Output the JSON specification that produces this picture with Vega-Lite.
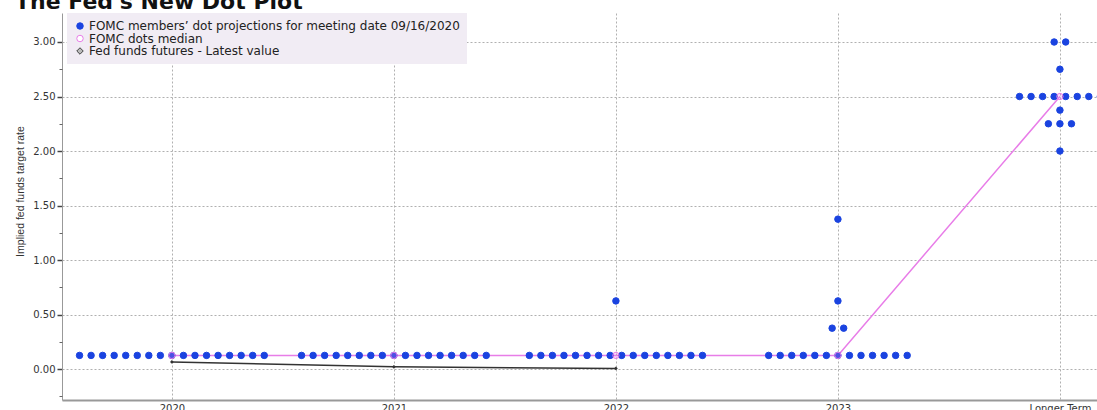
{
  "$schema": "https://vega.github.io/schema/vega-lite/v6.json",
  "autosize": {"type": "none"},
  "padding": {"left": 62, "top": 13, "right": 0, "bottom": 10},
  "width": 1035,
  "height": 387,
  "background": "white",
  "config": {"view": {"stroke": null}},
  "title": {"text": "The Fed's New Dot Plot", "anchor": "start", "frame": "group", "font": "DejaVu Sans", "fontSize": 22, "fontWeight": "bold", "color": "#111", "dx": -47, "dy": 20, "offset": 2, "baseline": "alphabetic"},
  "datasets": {
    "dots": [
      {"series": "dots", "x": 2019.584, "y": 0.125}, {"series": "dots", "x": 2019.636, "y": 0.125}, {"series": "dots", "x": 2019.688, "y": 0.125}, {"series": "dots", "x": 2019.74, "y": 0.125}, {"series": "dots", "x": 2019.792, "y": 0.125}, {"series": "dots", "x": 2019.844, "y": 0.125}, {"series": "dots", "x": 2019.896, "y": 0.125}, {"series": "dots", "x": 2019.948, "y": 0.125}, {"series": "dots", "x": 2020, "y": 0.125}, {"series": "dots", "x": 2020.052, "y": 0.125}, {"series": "dots", "x": 2020.104, "y": 0.125}, {"series": "dots", "x": 2020.156, "y": 0.125}, {"series": "dots", "x": 2020.208, "y": 0.125}, {"series": "dots", "x": 2020.26, "y": 0.125}, {"series": "dots", "x": 2020.312, "y": 0.125}, {"series": "dots", "x": 2020.364, "y": 0.125}, {"series": "dots", "x": 2020.416, "y": 0.125},
      {"series": "dots", "x": 2020.584, "y": 0.125}, {"series": "dots", "x": 2020.636, "y": 0.125}, {"series": "dots", "x": 2020.688, "y": 0.125}, {"series": "dots", "x": 2020.74, "y": 0.125}, {"series": "dots", "x": 2020.792, "y": 0.125}, {"series": "dots", "x": 2020.844, "y": 0.125}, {"series": "dots", "x": 2020.896, "y": 0.125}, {"series": "dots", "x": 2020.948, "y": 0.125}, {"series": "dots", "x": 2021, "y": 0.125}, {"series": "dots", "x": 2021.052, "y": 0.125}, {"series": "dots", "x": 2021.104, "y": 0.125}, {"series": "dots", "x": 2021.156, "y": 0.125}, {"series": "dots", "x": 2021.208, "y": 0.125}, {"series": "dots", "x": 2021.26, "y": 0.125}, {"series": "dots", "x": 2021.312, "y": 0.125}, {"series": "dots", "x": 2021.364, "y": 0.125}, {"series": "dots", "x": 2021.416, "y": 0.125},
      {"series": "dots", "x": 2021.61, "y": 0.125}, {"series": "dots", "x": 2021.662, "y": 0.125}, {"series": "dots", "x": 2021.714, "y": 0.125}, {"series": "dots", "x": 2021.766, "y": 0.125}, {"series": "dots", "x": 2021.818, "y": 0.125}, {"series": "dots", "x": 2021.87, "y": 0.125}, {"series": "dots", "x": 2021.922, "y": 0.125}, {"series": "dots", "x": 2021.974, "y": 0.125}, {"series": "dots", "x": 2022.026, "y": 0.125}, {"series": "dots", "x": 2022.078, "y": 0.125}, {"series": "dots", "x": 2022.13, "y": 0.125}, {"series": "dots", "x": 2022.182, "y": 0.125}, {"series": "dots", "x": 2022.234, "y": 0.125}, {"series": "dots", "x": 2022.286, "y": 0.125}, {"series": "dots", "x": 2022.338, "y": 0.125}, {"series": "dots", "x": 2022.39, "y": 0.125}, {"series": "dots", "x": 2022, "y": 0.625},
      {"series": "dots", "x": 2022.688, "y": 0.125}, {"series": "dots", "x": 2022.74, "y": 0.125}, {"series": "dots", "x": 2022.792, "y": 0.125}, {"series": "dots", "x": 2022.844, "y": 0.125}, {"series": "dots", "x": 2022.896, "y": 0.125}, {"series": "dots", "x": 2022.948, "y": 0.125}, {"series": "dots", "x": 2023, "y": 0.125}, {"series": "dots", "x": 2023.052, "y": 0.125}, {"series": "dots", "x": 2023.104, "y": 0.125}, {"series": "dots", "x": 2023.156, "y": 0.125}, {"series": "dots", "x": 2023.208, "y": 0.125}, {"series": "dots", "x": 2023.26, "y": 0.125}, {"series": "dots", "x": 2023.312, "y": 0.125}, {"series": "dots", "x": 2022.974, "y": 0.375}, {"series": "dots", "x": 2023.026, "y": 0.375}, {"series": "dots", "x": 2023, "y": 0.625}, {"series": "dots", "x": 2023, "y": 1.375},
      {"series": "dots", "x": 2023.974, "y": 3.0}, {"series": "dots", "x": 2024.026, "y": 3.0}, {"series": "dots", "x": 2024, "y": 2.75}, {"series": "dots", "x": 2023.818, "y": 2.5}, {"series": "dots", "x": 2023.87, "y": 2.5}, {"series": "dots", "x": 2023.922, "y": 2.5}, {"series": "dots", "x": 2023.974, "y": 2.5}, {"series": "dots", "x": 2024.026, "y": 2.5}, {"series": "dots", "x": 2024.078, "y": 2.5}, {"series": "dots", "x": 2024.13, "y": 2.5}, {"series": "dots", "x": 2024.182, "y": 2.5}, {"series": "dots", "x": 2024, "y": 2.375}, {"series": "dots", "x": 2023.948, "y": 2.25}, {"series": "dots", "x": 2024, "y": 2.25}, {"series": "dots", "x": 2024.052, "y": 2.25}, {"series": "dots", "x": 2024, "y": 2.0}
    ],
    "median": [
      {"series": "median", "x": 2020, "y": 0.125}, {"series": "median", "x": 2021, "y": 0.125}, {"series": "median", "x": 2022, "y": 0.125}, {"series": "median", "x": 2023, "y": 0.125}, {"series": "median", "x": 2024, "y": 2.5}
    ],
    "futures": [
      {"series": "futures", "x": 2020, "y": 0.065}, {"series": "futures", "x": 2021, "y": 0.02}, {"series": "futures", "x": 2022, "y": 0.005}
    ]
  },
  "encoding": {
    "x": {"field": "x", "type": "quantitative", "scale": {"domain": [2019.505, 2024.167], "nice": false, "zero": false},
      "axis": {"title": null, "values": [2020, 2021, 2022, 2023, 2024], "labelExpr": "datum.value == 2024 ? 'Longer Term' : '' + datum.value", "grid": true, "gridColor": "#b0b0b0", "gridDash": [2, 2], "ticks": false, "domainColor": "#999", "domainWidth": 2, "labelFont": "DejaVu Sans", "labelFontSize": 10, "labelColor": "#333", "labelPadding": 3, "labelFlush": false, "labelOverlap": false}},
    "y": {"field": "y", "type": "quantitative", "scale": {"domain": [-0.284, 3.266], "nice": false, "zero": false}}
  },
  "layer": [
    {"data": {"name": "median"}, "mark": {"type": "line", "strokeWidth": 1.5, "color": "#e87de8", "clip": true},
      "encoding": {"y": {"field": "y", "type": "quantitative",
        "axis": {"title": "Implied fed funds target rate", "values": [0, 0.5, 1, 1.5, 2, 2.5, 3], "format": ".2f", "grid": true, "gridColor": "#b0b0b0", "gridDash": [2, 2], "tickSize": 5, "tickColor": "#444", "tickWidth": 1.5, "domainColor": "#999", "labelFont": "DejaVu Sans", "labelFontSize": 10, "labelColor": "#333", "labelPadding": 2, "titleFont": "Liberation Sans", "titleFontSize": 10.5, "titleFontWeight": "normal", "titleColor": "#333", "titleX": -42, "titleY": 178, "titleBaseline": "middle", "titleAngle": 270}}}},
    {"data": {"name": "futures"}, "mark": {"type": "line", "strokeWidth": 1.5, "color": "#333", "clip": true, "point": {"shape": "diamond", "filled": true, "size": 14, "color": "#333"}}, "encoding": {}},
    {"data": {"name": "dots"}, "mark": {"type": "point", "filled": true, "opacity": 1, "size": 42, "strokeWidth": 1, "clip": true},
      "encoding": {
        "fill": {"field": "series", "type": "nominal", "scale": {"domain": ["dots", "median", "futures"], "range": ["#1a43e0", "#ffffff", "#bbbbbb"]},
          "legend": {"orient": "none", "legendX": 5, "legendY": 0, "title": null, "fillColor": "#f1ecf4", "padding": 7, "labelFont": "DejaVu Sans", "labelFontSize": 12, "labelColor": "#222", "labelLimit": 800, "rowPadding": 0.5, "symbolOffset": 0, "labelOffset": 3, "symbolSize": 42, "symbolStrokeWidth": 1, "symbolOpacity": 1,
            "labelExpr": "datum.value == 'dots' ? 'FOMC members\u2019 dot projections for meeting date 09/16/2020' : datum.value == 'median' ? 'FOMC dots median' : 'Fed funds futures - Latest value'"}},
        "stroke": {"field": "series", "type": "nominal", "scale": {"domain": ["dots", "median", "futures"], "range": ["#1a43e0", "#e87de8", "#444444"]},
          "legend": {"orient": "none", "legendX": 5, "legendY": 0, "title": null, "fillColor": "#f1ecf4", "padding": 7, "labelFont": "DejaVu Sans", "labelFontSize": 12, "labelColor": "#222", "labelLimit": 800, "rowPadding": 0.5, "symbolOffset": 0, "labelOffset": 3, "symbolSize": 42, "symbolStrokeWidth": 1, "symbolOpacity": 1,
            "labelExpr": "datum.value == 'dots' ? 'FOMC members\u2019 dot projections for meeting date 09/16/2020' : datum.value == 'median' ? 'FOMC dots median' : 'Fed funds futures - Latest value'"}},
        "shape": {"field": "series", "type": "nominal", "scale": {"domain": ["dots", "median", "futures"], "range": ["circle", "circle", "diamond"]},
          "legend": {"orient": "none", "legendX": 5, "legendY": 0, "title": null, "fillColor": "#f1ecf4", "padding": 7, "labelFont": "DejaVu Sans", "labelFontSize": 12, "labelColor": "#222", "labelLimit": 800, "rowPadding": 0.5, "symbolOffset": 0, "labelOffset": 3, "symbolSize": 42, "symbolStrokeWidth": 1, "symbolOpacity": 1,
            "labelExpr": "datum.value == 'dots' ? 'FOMC members\u2019 dot projections for meeting date 09/16/2020' : datum.value == 'median' ? 'FOMC dots median' : 'Fed funds futures - Latest value'"}}
      }},
    {"data": {"name": "median"}, "mark": {"type": "point", "filled": true, "fill": "#e87de8", "fillOpacity": 0.25, "stroke": "#e87de8", "strokeWidth": 1, "size": 40, "clip": true},
      "encoding": {"y": {"field": "y", "type": "quantitative",
        "axis": {"orient": "left", "title": null, "values": [-0.25, 0.25, 0.75, 1.25, 1.75, 2.25, 2.75], "labels": false, "grid": false, "domain": false, "tickSize": 3, "tickColor": "#666"}}}}
  ],
  "resolve": {"axis": {"y": "independent"}}
}
